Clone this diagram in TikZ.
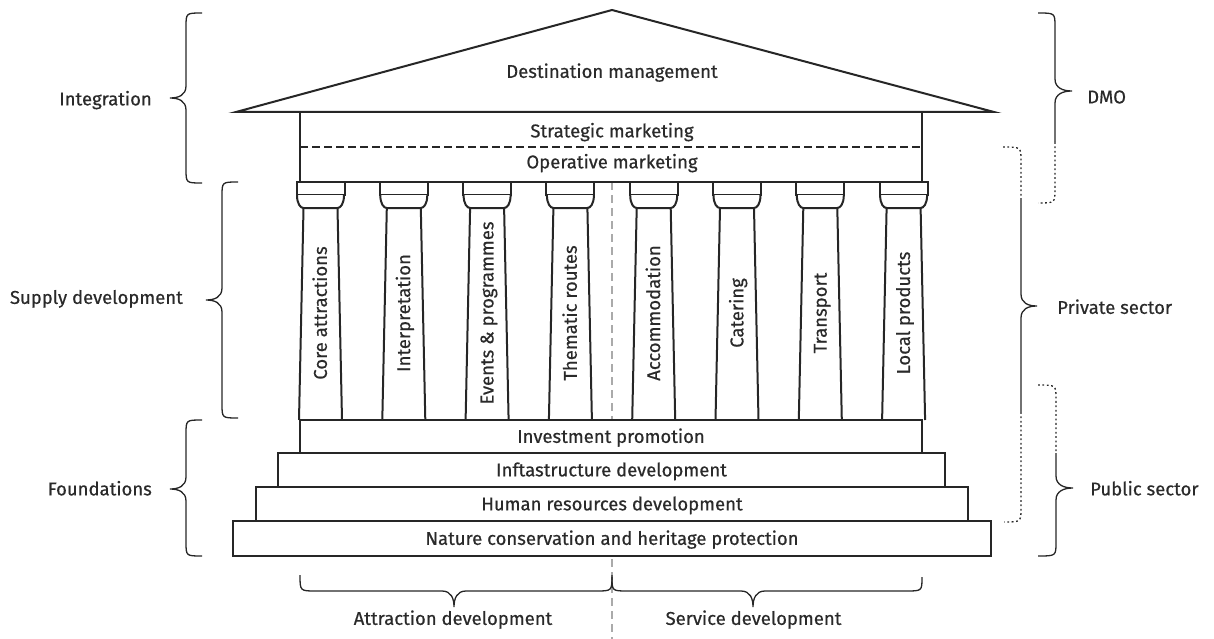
\documentclass[tikz,border=0pt]{standalone}
\usepackage{fontspec}
\setmainfont{Fira Sans}[FakeBold=0.5]
\definecolor{ink}{HTML}{262626}
\definecolor{txt}{HTML}{2A2A2A}
\definecolor{midline}{HTML}{AAAAAA}
% vertical brace: #1 style, #2 end x, #3 spine x, #4 tip x, #5 top y, #6 tip y, #7 bottom y
\newcommand\BrV[7][brc]{%
  \draw[#1] (#2,#5) .. controls (#3,#5) .. (#3,#5+14) -- (#3,#6-12)
    .. controls (#3,#6-3) and ({#3+0.45*(#4-#3)},#6) .. (#4,#6)
    .. controls ({#3+0.45*(#4-#3)},#6) and (#3,#6+3) .. (#3,#6+12)
    -- (#3,#7-14) .. controls (#3,#7) .. (#2,#7);}
% horizontal brace: #1 left x, #2 tip x, #3 right x, #4 end y, #5 flat y, #6 tip y
\newcommand\BrH[6]{%
  \draw[brc] (#1,#4) .. controls (#1,#5) .. (#1+16,#5) -- (#2-12,#5)
    .. controls (#2-3,#5) and (#2,{#5+0.45*(#6-#5)}) .. (#2,#6)
    .. controls (#2,{#5+0.45*(#6-#5)}) and (#2+3,#5) .. (#2+12,#5)
    -- (#3-16,#5) .. controls (#3,#5) .. (#3,#4);}
\begin{document}
\begin{tikzpicture}[x=1pt,y=-1pt,
  temple/.style={draw=ink, line width=2pt, fill=white},
  lbl/.style={text=txt, font=\fontsize{18.5}{20}\selectfont, text height=12.7pt, text depth=0pt, inner sep=0pt},
  stepbox/.style={temple, lbl, text=txt},
  brc/.style={draw=ink, line width=1.3pt},
  dotbrc/.style={draw=ink, line width=1.3pt, dash pattern=on 1.8pt off 2.6pt},
]
\useasboundingbox (0,0) rectangle (1214,639);

% central dashed divider
\coordinate (divtop) at (612,182);
\coordinate (divbot) at (612,639);
\draw[midline, line width=1.8pt, dash pattern=on 8pt off 5pt] (divtop) -- (divbot);

% roof
\draw[temple, line join=miter] (236,112) -- (612,10) -- (994,112) -- cycle;
\node[lbl] (roof) at (612,71.5) {Destination management};

% entablature
\draw[temple] (300,112) rectangle (922,182);
\draw[ink, line width=2pt, dash pattern=on 8pt off 4pt] (300,147) -- (922,147);
\node[lbl] (strat) at (612,131) {Strategic marketing};
\node[lbl] (oper) at (612,162) {Operative marketing};

% columns
\foreach \i/\t in {0/Core attractions,1/Interpretation,2/Events \& programmes,3/Thematic routes,4/Accommodation,5/Catering,6/Transport,7/Local products}{
  \pgfmathsetmacro\c{320.5+83.3*\i}
  \draw[temple] (\c-24,182) rectangle (\c+24,195);
  \draw[temple] (\c-23.5,195) .. controls (\c-23.5,204) and (\c-20,208) .. (\c-17,208)
     -- (\c+17,208) .. controls (\c+20,208) and (\c+23.5,204) .. (\c+23.5,195);
  \draw[ink, line width=2pt] (\c-17,208) -- (\c-21.5,420);
  \draw[ink, line width=2pt] (\c+17,208) -- (\c+21.5,420);
  \node[lbl, rotate=90] (col\i) at (\c,313) {\t};
}

% steps
\node[stepbox, minimum width=622pt, minimum height=33pt] (s1) at (611,436.5) {Investment promotion};
\node[stepbox, minimum width=667pt, minimum height=34pt] (s2) at (611.5,470) {Inftastructure development};
\node[stepbox, minimum width=712pt, minimum height=34pt] (s3) at (612,504) {Human resources development};
\node[stepbox, minimum width=758pt, minimum height=35pt] (s4) at (612,538.5) {Nature conservation and heritage protection};

% left braces
\BrV{202}{186}{170}{13}{98}{183}
\BrV{238}{222}{206}{182}{300}{418}
\BrV{202}{186}{170}{420}{489}{556}
\node[lbl, anchor=east] (integ) at (152,99) {Integration};
\node[lbl, anchor=east] (supply) at (183,297.5) {Supply development};
\node[lbl, anchor=east] (found) at (152,489) {Foundations};

% right braces (with dotted overlaps)
% DMO
\draw[brc] (1038,13) .. controls (1055,13) .. (1055,27) -- (1055,79)
   .. controls (1055,88) and (1063,91) .. (1072,91)
   .. controls (1063,91) and (1055,94) .. (1055,103) -- (1055,142);
\draw[dotbrc] (1055,142) -- (1055,189) .. controls (1055,203) .. (1038,203);
% Private sector
\draw[dotbrc] (1003,147) .. controls (1021,147) .. (1021,161) -- (1021,200);
\draw[brc] (1021,200) -- (1021,294)
   .. controls (1021,303) and (1028,306) .. (1037,306)
   .. controls (1028,306) and (1021,309) .. (1021,318) -- (1021,412);
\draw[dotbrc] (1021,412) -- (1021,508) .. controls (1021,522) .. (1004,522);
% Public sector
\draw[dotbrc] (1038,385) .. controls (1056,385) .. (1056,399) -- (1056,453);
\draw[brc] (1056,453) -- (1056,476)
   .. controls (1056,485) and (1064,488) .. (1073,488)
   .. controls (1064,488) and (1056,491) .. (1056,500) -- (1056,542)
   .. controls (1056,556) .. (1038,556);
\node[lbl, anchor=west] (dmo) at (1087,97) {DMO};
\node[lbl, anchor=west] (priv) at (1057,307.5) {Private sector};
\node[lbl, anchor=west] (pub) at (1090,489) {Public sector};

% bottom braces
\BrH{300}{454}{612}{575}{591}{607}
\BrH{612}{753}{922}{577}{591}{607}
\node[lbl] (attr) at (453,618.5) {Attraction development};
\node[lbl] (serv) at (753.5,618.5) {Service development};
\end{tikzpicture}
\end{document}
